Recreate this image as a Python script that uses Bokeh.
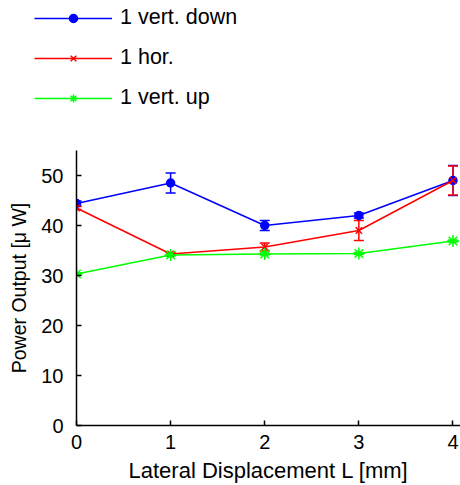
from bokeh.plotting import figure
from bokeh.layouts import column
from bokeh.models import ColumnDataSource, Whisker, Legend, LegendItem, Range1d, FixedTicker
from bokeh.embed import file_html
from bokeh.resources import INLINE

x = [0, 1, 2, 3, 4]
down = [44.4, 48.5, 40.0, 42.0, 49.0]
down_err = [0.5, 2.0, 1.0, 0.5, 3.0]
hor = [43.5, 34.3, 35.7, 39.0, 49.0]
hor_err = [0.3, 0.3, 0.8, 2.0, 2.9]
up = [30.3, 34.1, 34.3, 34.4, 36.9]
up_err = [0.2, 0.2, 0.2, 0.2, 0.2]
names = ["1 vert. down", "1 hor.", "1 vert. up"]
colors = ["#0000ff", "#ff0000", "#00ff00"]
markers = ["circle", "x", "asterisk"]
sizes = [8, 9, 12]

FONT = "Liberation Sans"

p = figure(width=460, height=360, output_backend="svg", toolbar_location=None,
           x_range=Range1d(0, 4.08), y_range=Range1d(0, 55),
           min_border_left=76, min_border_right=0, min_border_top=25, min_border_bottom=59)
# legend strip above the axes
lf = figure(width=460, height=125, output_backend="svg", toolbar_location=None,
            x_range=Range1d(100, 101), y_range=Range1d(100, 101),
            x_axis_location=None, y_axis_location=None,
            min_border_left=0, min_border_right=0, min_border_top=0, min_border_bottom=0)

unaligned = True
try:
    p.frame_align = False
    lf.frame_align = False
except AttributeError:
    unaligned = False

for f in (p, lf):
    f.outline_line_color = None
    f.xgrid.visible = False
    f.ygrid.visible = False
    f.background_fill_color = "white"
    f.border_fill_color = "white"

items = []
for vals, errs, name, col, mk, sz in zip([down, hor, up], [down_err, hor_err, up_err], names, colors, markers, sizes):
    src = ColumnDataSource(dict(x=x, y=vals,
                                lo=[v - e for v, e in zip(vals, errs)],
                                hi=[v + e for v, e in zip(vals, errs)]))
    w = Whisker(base="x", lower="lo", upper="hi", source=src, line_color=col, line_width=1.5)
    w.upper_head.size = 10
    w.lower_head.size = 10
    w.upper_head.line_color = col
    w.lower_head.line_color = col
    w.upper_head.line_width = 1.5
    w.lower_head.line_width = 1.5
    p.add_layout(w)
    p.line("x", "y", source=src, line_color=col, line_width=1.5)
    p.scatter("x", "y", source=src, marker=mk, size=sz, line_color=col, fill_color=col, line_width=1.5)
    # same series in the legend strip (out of its view), used for legend glyphs
    ln = lf.line("x", "y", source=src, line_color=col, line_width=1.5)
    sc = lf.scatter("x", "y", source=src, marker=mk, size=sz, line_color=col, fill_color=col, line_width=1.5)
    items.append(LegendItem(label=name, renderers=[ln, sc]))

legend = Legend(items=items, location=(34 if unaligned else -42, 15), orientation="vertical",
                glyph_width=78, glyph_height=20, label_height=20, spacing=15,
                label_standoff=8, padding=0, margin=0,
                label_text_font=FONT, label_text_font_size="21.5px", label_text_color="black",
                border_line_color=None, background_fill_alpha=0)
lf.add_layout(legend, "center")

for ax in (p.xaxis[0], p.yaxis[0]):
    ax.axis_line_width = 1.5
    ax.axis_line_color = "black"
    ax.major_tick_in = 5
    ax.major_tick_out = 0
    ax.major_tick_line_width = 1.5
    ax.minor_tick_line_color = None
    ax.major_label_text_font = FONT
    ax.major_label_text_font_size = "20px"
    ax.major_label_text_color = "black"
    ax.axis_label_text_font = FONT
    ax.axis_label_text_font_style = "normal"
    ax.axis_label_text_color = "black"

p.xaxis.ticker = FixedTicker(ticks=x)
p.yaxis.ticker = FixedTicker(ticks=[0, 10, 20, 30, 40, 50])
p.xaxis.axis_label = "Lateral Displacement L [mm]"
p.yaxis.axis_label = "Power Output [μ W]"
p.xaxis.axis_label_text_font_size = "22px"
p.yaxis.axis_label_text_font_size = "19.5px"
p.xaxis.major_label_standoff = 9
p.yaxis.major_label_standoff = 13
p.xaxis.axis_label_standoff = 6
p.yaxis.axis_label_standoff = 8

open("out.html", "w").write(file_html(column(lf, p, spacing=0), INLINE))
